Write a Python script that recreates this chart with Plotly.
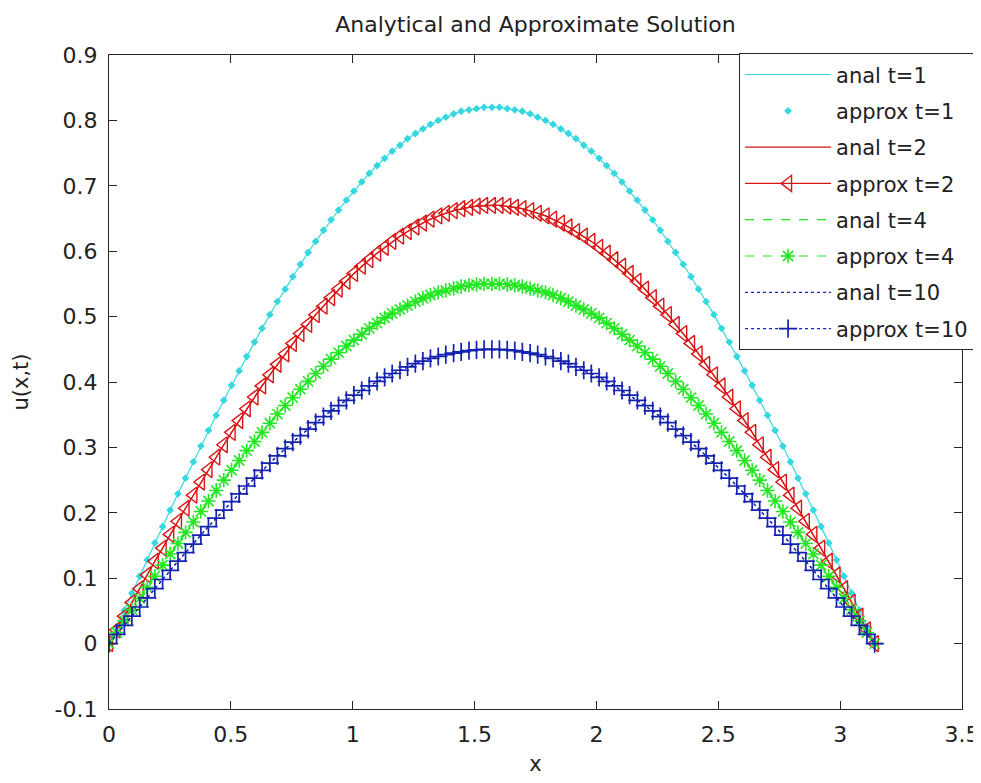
import plotly.graph_objects as go

x_vals = [
    0.000, 0.031, 0.063, 0.094, 0.126, 0.157, 0.188, 0.220, 0.251, 0.283,
    0.314, 0.346, 0.377, 0.408, 0.440, 0.471, 0.503, 0.534, 0.565, 0.597,
    0.628, 0.660, 0.691, 0.723, 0.754, 0.785, 0.817, 0.848, 0.880, 0.911,
    0.942, 0.974, 1.005, 1.037, 1.068, 1.100, 1.131, 1.162, 1.194, 1.225,
    1.257, 1.288, 1.319, 1.351, 1.382, 1.414, 1.445, 1.477, 1.508, 1.539,
    1.571,
    1.602, 1.634, 1.665, 1.696, 1.728, 1.759, 1.791, 1.822, 1.854, 1.885,
    1.916, 1.948, 1.979, 2.011, 2.042, 2.073, 2.105, 2.136, 2.168, 2.199,
    2.231, 2.262, 2.293, 2.325, 2.356, 2.388, 2.419, 2.450, 2.482, 2.513,
    2.545, 2.576, 2.608, 2.639, 2.670, 2.702, 2.733, 2.765, 2.796, 2.827,
    2.859, 2.890, 2.922, 2.953, 2.985, 3.016, 3.047, 3.079, 3.110, 3.142,
]

u_t1 = [
    0.000, 0.026, 0.051, 0.077, 0.103, 0.128, 0.154, 0.179, 0.204, 0.229,
    0.253, 0.278, 0.302, 0.326, 0.349, 0.372, 0.395, 0.417, 0.439, 0.461,
    0.482, 0.503, 0.523, 0.542, 0.561, 0.580, 0.598, 0.615, 0.632, 0.648,
    0.663, 0.678, 0.692, 0.706, 0.719, 0.731, 0.742, 0.753, 0.762, 0.772,
    0.780, 0.787, 0.794, 0.800, 0.805, 0.810, 0.814, 0.816, 0.818, 0.820,
    0.820,
    0.820, 0.818, 0.816, 0.814, 0.810, 0.805, 0.800, 0.794, 0.787, 0.780,
    0.772, 0.762, 0.753, 0.742, 0.731, 0.719, 0.706, 0.692, 0.678, 0.663,
    0.648, 0.632, 0.615, 0.598, 0.580, 0.561, 0.542, 0.523, 0.503, 0.482,
    0.461, 0.439, 0.417, 0.395, 0.372, 0.349, 0.326, 0.302, 0.278, 0.253,
    0.229, 0.204, 0.179, 0.154, 0.128, 0.103, 0.077, 0.051, 0.026, 0.000,
]

u_t2 = [
    0.000, 0.021, 0.042, 0.063, 0.084, 0.105, 0.126, 0.146, 0.167, 0.187,
    0.207, 0.227, 0.247, 0.266, 0.285, 0.304, 0.323, 0.341, 0.359, 0.377,
    0.394, 0.411, 0.427, 0.443, 0.459, 0.474, 0.488, 0.503, 0.516, 0.529,
    0.542, 0.554, 0.566, 0.577, 0.587, 0.597, 0.606, 0.615, 0.623, 0.630,
    0.637, 0.643, 0.649, 0.654, 0.658, 0.662, 0.665, 0.667, 0.669, 0.670,
    0.670,
    0.670, 0.669, 0.667, 0.665, 0.662, 0.658, 0.654, 0.649, 0.643, 0.637,
    0.630, 0.623, 0.615, 0.606, 0.597, 0.587, 0.577, 0.566, 0.554, 0.542,
    0.529, 0.516, 0.503, 0.488, 0.474, 0.459, 0.443, 0.427, 0.411, 0.394,
    0.377, 0.359, 0.341, 0.323, 0.304, 0.285, 0.266, 0.247, 0.227, 0.207,
    0.187, 0.167, 0.146, 0.126, 0.105, 0.084, 0.063, 0.042, 0.021, 0.000,
]

u_t4 = [
    0.000, 0.017, 0.035, 0.052, 0.069, 0.086, 0.103, 0.120, 0.137, 0.153,
    0.170, 0.186, 0.202, 0.218, 0.234, 0.250, 0.265, 0.280, 0.295, 0.309,
    0.323, 0.337, 0.351, 0.364, 0.376, 0.389, 0.401, 0.413, 0.424, 0.435,
    0.445, 0.455, 0.464, 0.473, 0.482, 0.490, 0.498, 0.505, 0.511, 0.517,
    0.523, 0.528, 0.533, 0.537, 0.540, 0.543, 0.546, 0.548, 0.549, 0.550,
    0.550,
    0.550, 0.549, 0.548, 0.546, 0.543, 0.540, 0.537, 0.533, 0.528, 0.523,
    0.517, 0.511, 0.505, 0.498, 0.490, 0.482, 0.473, 0.464, 0.455, 0.445,
    0.435, 0.424, 0.413, 0.401, 0.389, 0.376, 0.364, 0.351, 0.337, 0.323,
    0.309, 0.295, 0.280, 0.265, 0.250, 0.234, 0.218, 0.202, 0.186, 0.170,
    0.153, 0.137, 0.120, 0.103, 0.086, 0.069, 0.052, 0.035, 0.017, 0.000,
]

u_t10 = [
    0.000, 0.014, 0.028, 0.042, 0.056, 0.070, 0.084, 0.098, 0.112, 0.126,
    0.139, 0.152, 0.166, 0.179, 0.192, 0.204, 0.217, 0.229, 0.241, 0.253,
    0.265, 0.276, 0.287, 0.298, 0.308, 0.318, 0.328, 0.338, 0.347, 0.356,
    0.364, 0.372, 0.380, 0.387, 0.394, 0.401, 0.407, 0.413, 0.418, 0.423,
    0.428, 0.432, 0.436, 0.439, 0.442, 0.444, 0.446, 0.448, 0.449, 0.450,
    0.450,
    0.450, 0.449, 0.448, 0.446, 0.444, 0.442, 0.439, 0.436, 0.432, 0.428,
    0.423, 0.418, 0.413, 0.407, 0.401, 0.394, 0.387, 0.380, 0.372, 0.364,
    0.356, 0.347, 0.338, 0.328, 0.318, 0.308, 0.298, 0.287, 0.276, 0.265,
    0.253, 0.241, 0.229, 0.217, 0.204, 0.192, 0.179, 0.166, 0.152, 0.139,
    0.126, 0.112, 0.098, 0.084, 0.070, 0.056, 0.042, 0.028, 0.014, 0.000,
]

x_ticks = [0, 0.5, 1, 1.5, 2, 2.5, 3, 3.5]
x_tick_labels = ["0", "0.5", "1", "1.5", "2", "2.5", "3", "3.5"]
y_ticks = [-0.1, 0, 0.1, 0.2, 0.3, 0.4, 0.5, 0.6, 0.7, 0.8, 0.9]
y_tick_labels = ["-0.1", "0", "0.1", "0.2", "0.3", "0.4", "0.5", "0.6", "0.7", "0.8", "0.9"]

CYAN = "#36d8e0"
RED = "#d81414"
GREEN = "#22e622"
BLUE = "#1422b0"
FONT = "DejaVu Sans, Verdana, sans-serif"
TXT = "#222222"

fig = go.Figure()

fig.add_trace(go.Scatter(x=x_vals, y=u_t1, mode="lines", name="anal t=1", legendgroup="a1",
                         line=dict(color=CYAN, width=1.2)))
fig.add_trace(go.Scatter(x=x_vals, y=u_t1, mode="markers", name="approx t=1", legendgroup="p1",
                         marker=dict(color=CYAN, size=6, symbol="diamond")))
fig.add_trace(go.Scatter(x=x_vals, y=u_t2, mode="lines", name="anal t=2", legendgroup="a2",
                         line=dict(color=RED, width=1.2)))
fig.add_trace(go.Scatter(x=x_vals, y=u_t2, mode="lines+markers", name="approx t=2", legendgroup="p2",
                         line=dict(color=RED, width=1.2),
                         marker=dict(color=RED, size=14, symbol="triangle-left-open",
                                     line=dict(width=1.4, color=RED))))
fig.add_trace(go.Scatter(x=x_vals, y=u_t4, mode="lines", name="anal t=4", legendgroup="a4",
                         line=dict(color=GREEN, width=1.2, dash="dash")))
fig.add_trace(go.Scatter(x=x_vals, y=u_t4, mode="lines+markers", name="approx t=4", legendgroup="p4",
                         line=dict(color=GREEN, width=1.2, dash="dash"),
                         marker=dict(color=GREEN, size=12, symbol="asterisk-open",
                                     line=dict(width=1.6, color=GREEN))))
fig.add_trace(go.Scatter(x=x_vals, y=u_t10, mode="lines", name="anal t=10", legendgroup="a10",
                         line=dict(color=BLUE, width=1.2, dash="dot")))
fig.add_trace(go.Scatter(x=x_vals, y=u_t10, mode="lines+markers", name="approx t=10", legendgroup="p10",
                         line=dict(color=BLUE, width=1.2, dash="dot"),
                         marker=dict(color=BLUE, size=13, symbol="cross-thin-open",
                                     line=dict(width=1.7, color=BLUE))))

axis_common = dict(
    showgrid=False, zeroline=False, showline=True, linecolor="#262626",
    linewidth=1.3, mirror="ticks", ticks="inside", ticklen=8,
    tickcolor="#262626", tickwidth=1.3,
    tickfont=dict(family=FONT, size=22, color=TXT),
)

fig.update_layout(
    width=1010, height=775,
    margin=dict(l=98, r=56, t=47, b=65),
    paper_bgcolor="white", plot_bgcolor="white",
    title=dict(text="Analytical and Approximate Solution", x=0.5, xref="paper", xanchor="center",
               y=0.979, yref="container", yanchor="middle",
               font=dict(family=FONT, size=22, color=TXT)),
    xaxis=dict(range=[0, 3.5], tickvals=x_ticks, ticktext=x_tick_labels,
               ticklabelstandoff=5,
               title=dict(text="x", standoff=10, font=dict(family=FONT, size=21, color=TXT)),
               **axis_common),
    yaxis=dict(range=[-0.1, 0.9], tickvals=y_ticks, ticktext=y_tick_labels,
               ticklabelstandoff=6,
               title=dict(text="u(x,t)", standoff=20, font=dict(family=FONT, size=21, color=TXT)),
               **axis_common),
    legend=dict(x=0.7383, y=1.003, xanchor="left", yanchor="top",
                bgcolor="white", bordercolor="#262626", borderwidth=1.3,
                itemwidth=86, tracegroupgap=6,
                font=dict(family=FONT, size=21, color=TXT)),
    showlegend=True,
)

fig.write_html("out.html")
